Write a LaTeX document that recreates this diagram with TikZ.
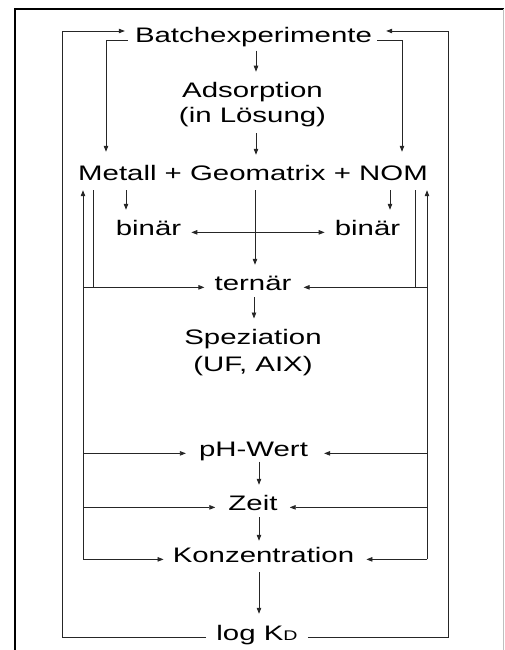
\documentclass[tikz,border=0pt]{standalone}
\usepackage{fontspec}
\setmainfont{Liberation Sans}[FakeStretch=1.4]
\usetikzlibrary{arrows.meta,calc}
\begin{document}
\begin{tikzpicture}[x=1pt,y=-1pt,
  lbl/.style={inner sep=0pt, anchor=base, text height=15pt, text depth=4.5pt, font=\fontsize{21}{25}\selectfont},
  mlbl/.style={inner sep=0pt, anchor=north, align=center},
  ln/.style={line width=0.8pt, draw=black!85},
  arr/.style={ln, -{Triangle[length=6pt,width=4.5pt]}},
  darr/.style={ln, {Triangle[length=6pt,width=4.5pt]}-{Triangle[length=6pt,width=4.5pt]}},
]
\useasboundingbox (0,0) rectangle (504,650);
\draw[line width=1.6pt] (15,650) -- (15,9) -- (504,9);
\draw[black!25, line width=0.8pt] (503,9) -- (503,650);

% nodes
\node[lbl] (batch) at (253.5,43) {Batchexperimente};
\node[mlbl, font=\fontsize{21}{25}\selectfont] (ads) at (252.5,81.7) {Adsorption\\(in Lösung)};
\node[lbl] (mgn) at (253,180) {Metall + Geomatrix + NOM};
\node[lbl] (binL) at (148.5,235) {binär};
\node[lbl] (binR) at (367.5,235) {binär};
\node[lbl] (tern) at (253,290) {ternär};
\node[mlbl, font=\fontsize{21}{27}\selectfont] (spez) at (253,329.5) {Speziation\\(UF, AIX)};
\node[lbl] (ph) at (253.5,456) {pH-Wert};
\node[lbl] (zeit) at (253,510) {Zeit};
\node[lbl] (konz) at (263.5,562) {Konzentration};
\node[lbl] (logkd) at (257,640) {log K{\fontsize{14}{14}\selectfont D}};

% x positions of vertical lines
\coordinate (oL) at (62,31);
\coordinate (oR) at (448,31);
\coordinate (iL) at (106,0);
\coordinate (iR) at (402,0);
\coordinate (xA) at (256,0);
\coordinate (xC) at (255,0);
\coordinate (xT) at (254,0);
\coordinate (xB) at (259,0);
\coordinate (xbl) at (126,0);
\coordinate (xbr) at (390,0);
\coordinate (l1) at (83,0);
\coordinate (l2) at (93,0);
\coordinate (r1) at (427,0);
\coordinate (r2) at (415,0);

% outer loop: log K_D -> Batchexperimente
\draw[arr, shorten >=10pt] ([xshift=-10pt]logkd.mid west) -| (oL) -- (oL -| batch.west);
\draw[arr, shorten >=14pt] ([xshift=10pt]logkd.mid east) -| (oR) -- (oR -| batch.east);

% inner loop: Batchexperimente -> Metall / NOM
\draw[arr, shorten >=13pt] ([xshift=-7pt]batch.mid west) -| (iL |- mgn.north);
\draw[arr, shorten >=13pt] ([xshift=5pt]batch.mid east) -| (iR |- mgn.north);

% main axis
\draw[arr, shorten <=3pt, shorten >=10pt] (batch.south -| xA) -- (ads.north -| xA);
\draw[arr, shorten <=6.5pt, shorten >=10pt] (ads.south -| xA) -- (mgn.north -| xA);
\draw[arr, shorten <=5.5pt, shorten >=10pt] (mgn.south -| xC) -- (tern.north -| xC);
\draw[arr, shorten <=2.5pt, shorten >=11pt] (tern.south -| xT) -- (spez.north -| xT);
\draw[arr, shorten <=1pt, shorten >=10pt] (ph.south -| xB) -- (zeit.north -| xB);
\draw[arr, shorten <=2.5pt, shorten >=6pt] (zeit.south -| xB) -- (konz.north -| xB);
\draw[arr, shorten <=5.5pt, shorten >=11pt] (konz.south -| xB) -- (logkd.north -| xB);

% binaer
\draw[arr, shorten <=5.5pt, shorten >=10pt] (mgn.south -| xbl) -- (binL.north -| xbl);
\draw[arr, shorten <=5.5pt, shorten >=10pt] (mgn.south -| xbr) -- (binR.north -| xbr);
\draw[darr] ([xshift=10pt]binL.mid east) -- ([xshift=-10pt]binR.mid west);

% Metall/NOM -> ternaer
\draw[ln, shorten <=5.5pt] (mgn.south -| l2) -- (tern.mid -| l2);
\draw[ln, shorten <=5.5pt] (mgn.south -| r2) -- (tern.mid -| r2);
\draw[arr] (tern.mid -| l1) -- ([xshift=-10pt]tern.mid west);
\draw[arr] (tern.mid -| r1) -- ([xshift=12pt]tern.mid east);

% side verticals up to Metall / NOM
\draw[arr, shorten >=5.5pt] (konz.mid -| l1) -- (mgn.south -| l1);
\draw[arr, shorten >=5.5pt] (konz.mid -| r1) -- (mgn.south -| r1);

% branches to pH, Zeit, Konzentration
\draw[arr] (ph.mid -| l1) -- ([xshift=-13pt]ph.mid west);
\draw[arr] (zeit.mid -| l1) -- ([xshift=-13pt]zeit.mid west);
\draw[arr] (konz.mid -| l1) -- ([xshift=-9pt]konz.mid west);
\draw[arr] (ph.mid -| r1) -- ([xshift=16pt]ph.mid east);
\draw[arr] (zeit.mid -| r1) -- ([xshift=12pt]zeit.mid east);
\draw[arr] (konz.mid -| r1) -- ([xshift=12pt]konz.mid east);
\end{tikzpicture}
\end{document}
